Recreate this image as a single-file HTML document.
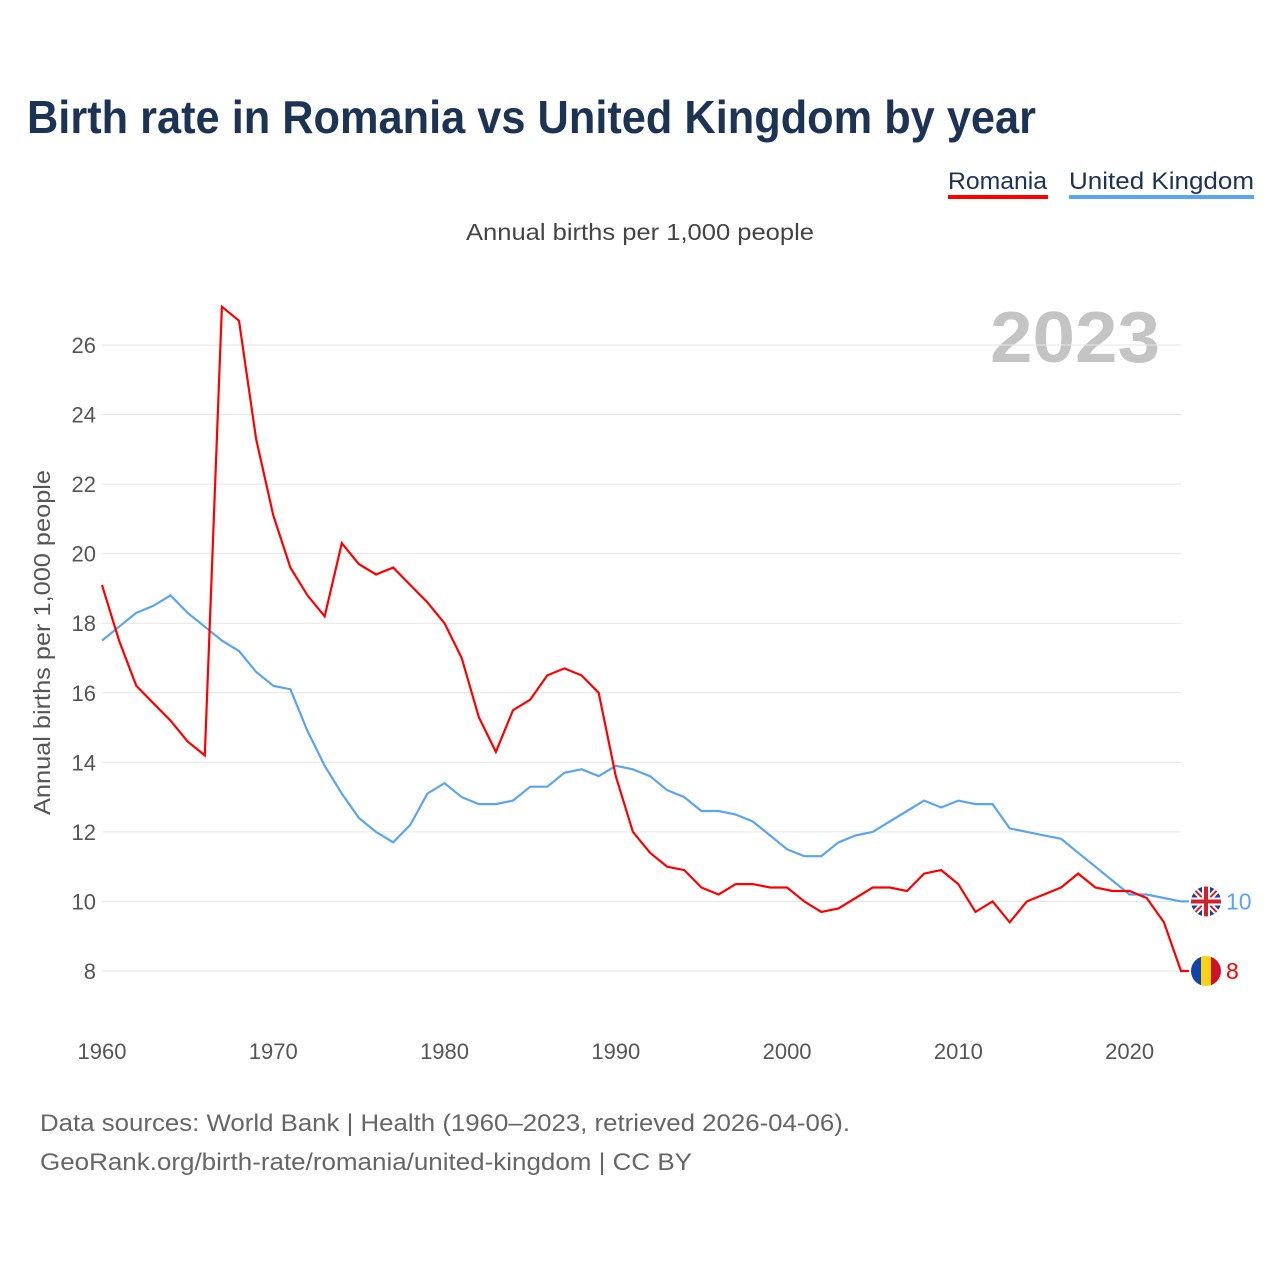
<!DOCTYPE html>
<html><head><meta charset="utf-8"><style>
body{margin:0;background:#fff;font-family:"Liberation Sans",sans-serif}
</style></head><body>
<svg id="chart" width="1280" height="1280" xmlns="http://www.w3.org/2000/svg" font-family="Liberation Sans, sans-serif">
<rect width="1280" height="1280" fill="#fff"/>
<text x="27" y="133" font-size="46" font-weight="bold" fill="#1c3353" textLength="1009" lengthAdjust="spacingAndGlyphs">Birth rate in Romania vs United Kingdom by year</text>
<g><text x="948" y="189" font-size="24" fill="#1c3353" textLength="99" lengthAdjust="spacingAndGlyphs">Romania</text><rect x="948" y="195" width="100" height="4" fill="#ff0000"/></g>
<g><text x="1069" y="189" font-size="24" fill="#1c3353" textLength="185" lengthAdjust="spacingAndGlyphs">United Kingdom</text><rect x="1069" y="195" width="185" height="4" fill="#5aa5ec"/></g>
<text x="466" y="240" font-size="23" fill="#444" textLength="348" lengthAdjust="spacingAndGlyphs">Annual births per 1,000 people</text>
<text x="990" y="362" font-size="72" font-weight="bold" fill="#c4c4c4" textLength="170" lengthAdjust="spacingAndGlyphs">2023</text>
<text transform="translate(50,815) rotate(-90)" font-size="23" fill="#555" textLength="345" lengthAdjust="spacingAndGlyphs">Annual births per 1,000 people</text>
<g id="grid"></g><g id="xt"></g><g id="lines"></g>
<text x="40" y="1131" font-size="24" fill="#666" textLength="810" lengthAdjust="spacingAndGlyphs">Data sources: World Bank | Health (1960–2023, retrieved 2026-04-06).</text>
<text x="40" y="1170" font-size="24" fill="#666" textLength="652" lengthAdjust="spacingAndGlyphs">GeoRank.org/birth-rate/romania/united-kingdom | CC BY</text>
</svg>
<script>
const years=[];for(let y=1960;y<=2023;y++)years.push(y);
const romania=[19.1,17.5,16.2,15.7,15.2,14.6,14.2,27.1,26.7,23.3,21.1,19.6,18.8,18.2,20.3,19.7,19.4,19.6,19.1,18.6,18.0,17.0,15.3,14.3,15.5,15.8,16.5,16.7,16.5,16.0,13.6,12.0,11.4,11.0,10.9,10.4,10.2,10.5,10.5,10.4,10.4,10.0,9.7,9.8,10.1,10.4,10.4,10.3,10.8,10.9,10.5,9.7,10.0,9.4,10.0,10.2,10.4,10.8,10.4,10.3,10.3,10.1,9.4,8.0];
const uk=[17.5,17.9,18.3,18.5,18.8,18.3,17.9,17.5,17.2,16.6,16.2,16.1,14.9,13.9,13.1,12.4,12.0,11.7,12.2,13.1,13.4,13.0,12.8,12.8,12.9,13.3,13.3,13.7,13.8,13.6,13.9,13.8,13.6,13.2,13.0,12.6,12.6,12.5,12.3,11.9,11.5,11.3,11.3,11.7,11.9,12.0,12.3,12.6,12.9,12.7,12.9,12.8,12.8,12.1,12.0,11.9,11.8,11.4,11.0,10.6,10.2,10.2,10.1,10.0];
const yTicks=[8,10,12,14,16,18,20,22,24,26];
const xTicks=[1960,1970,1980,1990,2000,2010,2020];
const X=y=>102+(y-1960)*(1079/63);
const Y=v=>971-(v-8)*(626/18);
const NS="http://www.w3.org/2000/svg";
function mk(t,a,p){const e=document.createElementNS(NS,t);for(const k in a)e.setAttribute(k,a[k]);p.appendChild(e);return e;}
const g=document.getElementById('grid');
yTicks.forEach(v=>{
 const l=mk('line',{x1:102,x2:1181,y1:Y(v),y2:Y(v),stroke:'#e6e6e6','stroke-width':1},g);
 
 
 const t=mk('text',{x:96,y:Y(v)+8,'font-size':22,fill:'#555','text-anchor':'end'},g);t.textContent=v;
 
 
});
const xt=document.getElementById('xt');
xTicks.forEach(y=>{
 const t=mk('text',{x:X(y),y:1059,'font-size':22,fill:'#555','text-anchor':'middle'},xt);t.textContent=y;
 
 
});
const lg=document.getElementById('lines');
function line(d,c,n){
 const p=mk('path',{d:d.map((v,i)=>(i?'L':'M')+X(years[i]).toFixed(1)+','+Y(v).toFixed(1)).join('')+'h8',fill:'none',stroke:c,'stroke-width':2.2},lg);
 
 
}
line(uk,'#5aa5ec','uk-line');
line(romania,'#ff0000','romania-line');
const ly=X(2023)+25;
const ukv=uk[uk.length-1], rov=romania[romania.length-1];
const uf=mk('g',{},lg);


mk('clipPath',{id:'cu'},uf).appendChild(document.createElementNS(NS,'circle')).setAttribute('r',15);
const ug=mk('g',{transform:`translate(${ly},${Y(ukv)})`},uf);
const cg=mk('g',{'clip-path':'url(#cu)'},ug);
mk('rect',{x:-15,y:-15,width:30,height:30,fill:'#1b3f94'},cg);
mk('path',{d:'M-15,-15L15,15M15,-15L-15,15',stroke:'#fff','stroke-width':6},cg);
mk('path',{d:'M-15,-15L15,15M15,-15L-15,15',stroke:'#d3202f','stroke-width':2},cg);
mk('path',{d:'M0,-15V15M-15,0H15',stroke:'#fff','stroke-width':8},cg);
mk('path',{d:'M0,-15V15M-15,0H15',stroke:'#d3202f','stroke-width':4},cg);
const ut=mk('text',{x:ly+20,y:Y(ukv)+8,'font-size':23,fill:'#5aa5ec'},lg);ut.textContent=Math.round(ukv);


const rf=mk('g',{transform:`translate(${ly},${Y(rov)})`},lg);


mk('clipPath',{id:'cr'},rf).appendChild(document.createElementNS(NS,'circle')).setAttribute('r',15);
const rg=mk('g',{'clip-path':'url(#cr)'},rf);
mk('rect',{x:-15,y:-15,width:10,height:30,fill:'#1045a8'},rg);
mk('rect',{x:-5,y:-15,width:10,height:30,fill:'#fcd116'},rg);
mk('rect',{x:5,y:-15,width:10,height:30,fill:'#ce1126'},rg);
const rt=mk('text',{x:ly+20,y:Y(rov)+8,'font-size':23,fill:'#ff0000'},lg);rt.textContent=Math.round(rov);


</script>
</body></html>
